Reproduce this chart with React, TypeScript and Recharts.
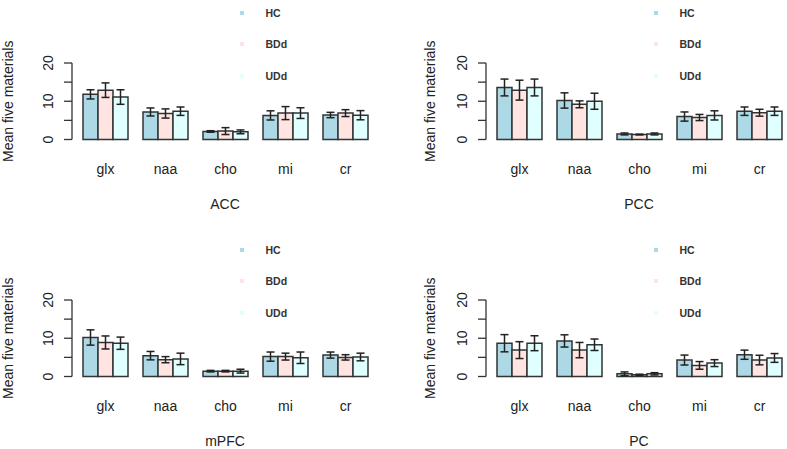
import React from 'react';
import { BarChart, Bar, XAxis, YAxis, ErrorBar, Legend } from 'recharts';

const categories = ['glx', 'naa', 'cho', 'mi', 'cr'];
const groupNames = ['HC', 'BDd', 'UDd'];
const groupColors = ['#ADD8E6', '#FFE4E1', '#E0FFFF'];
const yTicks = [0, 5, 10, 15, 20];

const accHC = [11.8, 7.2, 2.1, 6.3, 6.4];
const accHCErr = [1.2, 1.05, 0.2, 1.2, 0.7];
const accBDd = [12.9, 6.8, 2.2, 6.9, 6.9];
const accBDdErr = [1.9, 1.2, 0.9, 1.7, 0.9];
const accUDd = [11.1, 7.4, 2.0, 6.9, 6.35];
const accUDdErr = [1.9, 1.1, 0.5, 1.4, 1.2];

const pccHC = [13.6, 10.2, 1.45, 6.0, 7.4];
const pccHCErr = [2.2, 2.0, 0.25, 1.2, 1.1];
const pccBDd = [12.9, 9.2, 1.3, 5.75, 7.0];
const pccBDdErr = [2.6, 0.9, 0.1, 0.8, 0.9];
const pccUDd = [13.6, 10.0, 1.45, 6.3, 7.4];
const pccUDdErr = [2.2, 2.1, 0.25, 1.2, 1.1];

const mpfcHC = [10.2, 5.45, 1.4, 5.2, 5.6];
const mpfcHCErr = [2.0, 1.1, 0.2, 1.2, 0.8];
const mpfcBDd = [8.9, 4.4, 1.4, 5.2, 5.0];
const mpfcBDdErr = [1.7, 0.8, 0.2, 0.9, 0.7];
const mpfcUDd = [8.7, 4.6, 1.4, 4.9, 5.1];
const mpfcUDdErr = [1.6, 1.5, 0.5, 1.5, 1.0];

const pcHC = [8.7, 9.3, 0.7, 4.3, 5.7];
const pcHCErr = [2.25, 1.6, 0.5, 1.3, 1.2];
const pcBDd = [6.9, 6.9, 0.45, 2.9, 4.3];
const pcBDdErr = [2.2, 2.0, 0.15, 1.0, 1.25];
const pcUDd = [8.7, 8.3, 0.7, 3.5, 4.85];
const pcUDdErr = [1.95, 1.5, 0.3, 0.9, 1.15];

const FONT = '"Liberation Sans", Arial, Helvetica, sans-serif';
const TEXT = '#222';
const LINE = '#333';

function buildRows(hc: number[], hce: number[], bd: number[], bde: number[], ud: number[], ude: number[]) {
  return categories.map((c, i) => ({
    cat: c,
    HC: hc[i], HCe: hce[i],
    BDd: bd[i], BDde: bde[i],
    UDd: ud[i], UDde: ude[i],
  }));
}

const panels = [
  { title: 'ACC', left: 0, top: 0, yLabX: 13, rows: buildRows(accHC, accHCErr, accBDd, accBDdErr, accUDd, accUDdErr) },
  { title: 'PCC', left: 414, top: 0, yLabX: 21, rows: buildRows(pccHC, pccHCErr, pccBDd, pccBDdErr, pccUDd, pccUDdErr) },
  { title: 'mPFC', left: 0, top: 237, yLabX: 13, rows: buildRows(mpfcHC, mpfcHCErr, mpfcBDd, mpfcBDdErr, mpfcUDd, mpfcUDdErr) },
  { title: 'PC', left: 414, top: 237, yLabX: 21, rows: buildRows(pcHC, pcHCErr, pcBDd, pcBDdErr, pcUDd, pcUDdErr) },
];

const YTick = (props: any) => {
  const { x, y, payload } = props;
  if (payload.value % 10 !== 0) return <g />;
  const bx = x - 9;
  return (
    <text x={bx} y={y} transform={`rotate(-90, ${bx}, ${y})`} textAnchor="middle" fontSize={14} fill={TEXT} fontFamily={FONT}>
      {payload.value}
    </text>
  );
};

const XTick = (props: any) => {
  const { x, y, payload } = props;
  return (
    <text x={x} y={y + 34} textAnchor="middle" fontSize={14} fill={TEXT} fontFamily={FONT}>
      {payload.value}
    </text>
  );
};

const LegendContent = (props: any) => {
  const payload = [...(props.payload || [])].sort(
    (a: any, b: any) => groupNames.indexOf(a.value) - groupNames.indexOf(b.value)
  );
  return (
    <div style={{ fontFamily: FONT }}>
      {payload.map((p: any) => (
        <div key={p.value} style={{ height: 31.7, display: 'flex', alignItems: 'center' }}>
          <span style={{ display: 'inline-block', width: 4, height: 4, background: p.color, marginRight: 22 }} />
          <span style={{ fontSize: 10.5, fontWeight: 'bold', color: '#333' }}>{p.value}</span>
        </div>
      ))}
    </div>
  );
};

function Panel({ title, rows, yLabX }: { title: string; rows: any[]; yLabX: number }) {
  return (
    <BarChart
      width={400}
      height={225}
      data={rows}
      margin={{ top: 63, right: 22, bottom: 0, left: 0 }}
      barCategoryGap={7.5}
      barGap={0}
    >
      <XAxis
        dataKey="cat"
        axisLine={false}
        tickLine={false}
        tickSize={0}
        tickMargin={0}
        height={85.5}
        padding={{ left: 3.5, right: 2.5 }}
        tick={<XTick />}
        interval={0}
        label={(p: any) => {
          const vb = p.viewBox || {};
          return (
            <text x={vb.x + vb.width / 2} y={vb.y + 69} textAnchor="middle" fontSize={14} fill={TEXT} fontFamily={FONT}>
              {title}
            </text>
          );
        }}
      />
      <YAxis
        width={72}
        domain={[0, 20]}
        ticks={yTicks}
        interval={0}
        tickSize={8}
        tickMargin={2}
        axisLine={{ stroke: LINE, strokeWidth: 1.3 }}
        tickLine={{ stroke: LINE, strokeWidth: 1.3 }}
        tick={<YTick />}
        label={(p: any) => {
          const vb = p.viewBox || {};
          const cx = vb.x + yLabX;
          const cy = vb.y + vb.height / 2;
          return (
            <text x={cx} y={cy} transform={`rotate(-90, ${cx}, ${cy})`} textAnchor="middle" fontSize={14} fill={TEXT} fontFamily={FONT}>
              Mean five materials
            </text>
          );
        }}
      />
      <Legend
        layout="vertical"
        align="center"
        verticalAlign="middle"
        itemSorter={null as any}
        content={<LegendContent />}
        wrapperStyle={{ left: 239.5, top: -3.3, width: 'auto', height: 'auto' }}
      />
      {groupNames.map((g, i) => (
        <Bar key={g} dataKey={g} name={g} fill={groupColors[i]} stroke={LINE} strokeWidth={1.5} isAnimationActive={false}>
          <ErrorBar dataKey={g + 'e'} width={4} stroke="#222" strokeWidth={1.5} direction="y" isAnimationActive={false} />
        </Bar>
      ))}
    </BarChart>
  );
}

export default function App() {
  return (
    <div style={{ position: 'absolute', left: 0, top: 0, width: 787, height: 449, overflow: 'hidden', background: '#fff', fontFamily: FONT }}>
      {panels.map((p) => (
        <div key={p.title} style={{ position: 'absolute', left: p.left, top: p.top, width: 400, height: 225 }}>
          <Panel title={p.title} rows={p.rows} yLabX={p.yLabX} />
        </div>
      ))}
    </div>
  );
}
